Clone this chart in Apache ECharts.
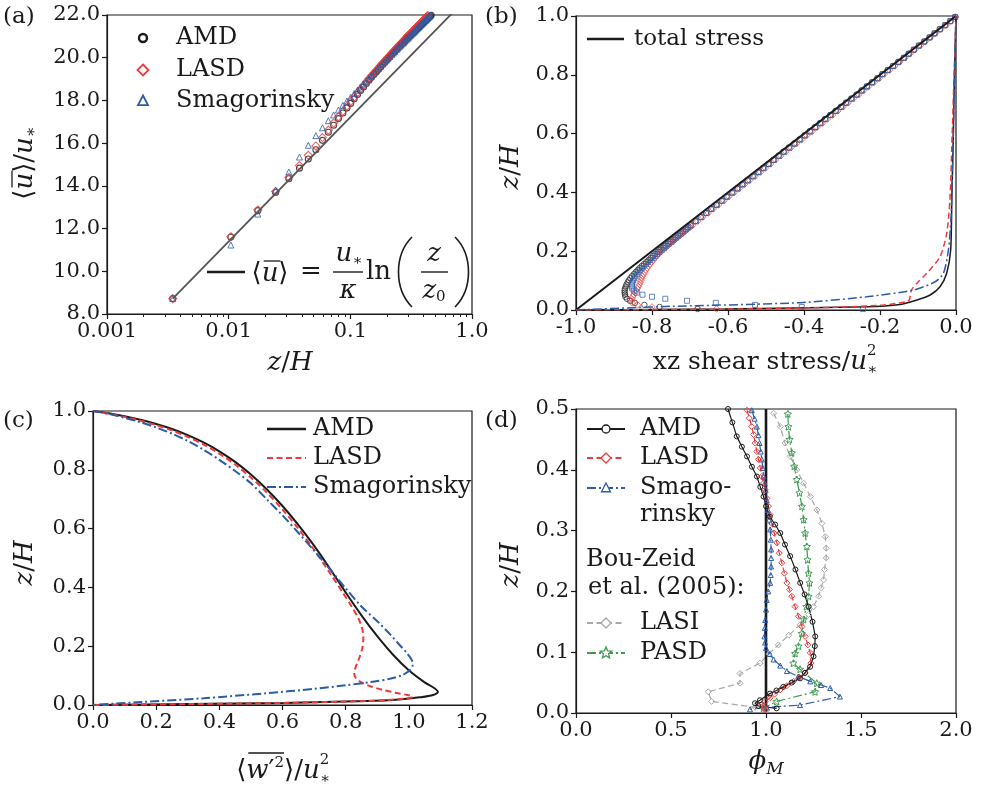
<!DOCTYPE html>
<html><head><meta charset="utf-8">
<script src="https://cdn.jsdelivr.net/npm/echarts@6/dist/echarts.min.js"></script>
<style>html,body{margin:0;padding:0;background:#fff}#c{width:987px;height:789px}</style>
</head><body><div id="c"></div>
<script>
// ---------------- Panel (a): mean velocity profile ----------------
const zA = [0.00347,0.01042,0.01736,0.02431,0.03125,0.03819,0.04514,0.05208,0.05903,0.06597,0.07292,0.07986,0.08681,0.09375,0.10069,0.10764,0.11458,0.12153,0.12847,0.13542,0.14236,
  0.14931,0.15625,0.16319,0.17014,0.17708,0.18403,0.19097,0.19792,0.20486,0.21181,0.21875,0.22569,0.23264,0.23958,0.24653,0.25347,0.26042,0.26736,0.27431,0.28125,0.28819,0.29514,0.30208,0.30903,0.31597,0.32292,0.32986,0.33681,0.34375,0.35069,0.35764,0.36458,0.37153,0.37847,0.38542,0.39236,0.39931,0.40625,0.41319,0.42014,0.42708,0.43403,0.44097,0.44792,0.45486,0.46181,0.46875,0.47569,0.48264,0.48958];
const uAMD = [8.72,11.60,12.84,13.69,14.33,14.83,15.26,15.69,16.13,16.51,16.84,17.15,17.41,17.65,17.86,18.08,18.28,18.46,18.63,18.79,18.95,
  19.08,19.21,19.33,19.45,19.57,19.68,19.78,19.88,19.98,20.07,20.16,20.24,20.32,20.40,20.48,20.55,20.62,20.68,20.75,20.81,20.87,20.93,20.99,21.04,21.09,21.14,21.19,21.24,21.29,21.34,21.38,21.43,21.47,21.51,21.56,21.60,21.64,21.68,21.72,21.76,21.80,21.84,21.88,21.91,21.95,21.99,22.02,22.06,22.10,22.13];
const uLASD = [8.72,11.62,12.87,13.74,14.40,14.95,15.43,15.87,16.26,16.61,16.94,17.23,17.49,17.73,17.95,18.16,18.36,18.54,18.71,18.87,19.02,
  19.15,19.28,19.40,19.52,19.63,19.74,19.84,19.94,20.03,20.12,20.21,20.29,20.37,20.45,20.53,20.60,20.67,20.74,20.81,20.88,20.94,21.00,21.06,21.12,21.17,21.23,21.28,21.33,21.39,21.44,21.49,21.53,21.58,21.63,21.67,21.72,21.76,21.81,21.85,21.89,21.94,21.98,22.02,22.05,22.09,22.13,22.17,22.21,22.25,22.28];
const uSmag = [8.72,11.23,12.68,13.80,14.65,15.35,15.90,16.35,16.72,17.05,17.32,17.55,17.77,17.97,18.15,18.32,18.48,18.63,18.77,18.90,19.03,
  19.16,19.28,19.40,19.51,19.61,19.71,19.80,19.89,19.98,20.06,20.14,20.22,20.30,20.38,20.45,20.52,20.59,20.65,20.71,20.78,20.84,20.90,20.96,21.02,21.07,21.13,21.18,21.23,21.29,21.34,21.39,21.43,21.48,21.53,21.57,21.62,21.66,21.71,21.75,21.79,21.84,21.88,21.92,21.95,21.99,22.03,22.07,22.11,22.15,22.18];
const lawZ = [0.00347, 1.0];
const lawU = [8.72, 23.03];
const aTickLabels = ['0.001','0.01','0.1','1.0'];
const aMinorTicks = [0.002,0.003,0.004,0.005,0.006,0.007,0.008,0.009,0.02,0.03,0.04,0.05,0.06,0.07,0.08,0.09,0.2,0.3,0.4,0.5,0.6,0.7,0.8,0.9];

// ---------------- Panel (b): shear stress ----------------
const zB = [0.0035,0.0104,0.0174,0.0243,0.0313,0.0382,0.0451,0.0521,0.0590,0.0660,0.0729,0.0799,0.0868,0.0938,0.1007,0.1076,0.1146,0.1215,0.1285,0.1354,0.1424,0.1493,0.1563,0.1632,0.1701,0.1771,0.1840,0.1910,0.1979,0.2049,0.2118,0.2188,0.2257,0.2326,0.2396,0.2465,0.2535,0.2604,0.2674,0.2743,0.2813,0.2882,
  0.3021,0.3160,0.3299,0.3438,0.3576,0.3715,0.3854,0.3993,0.4132,0.4271,0.4410,0.4549,0.4688,0.4826,0.4965,0.5104,0.5243,0.5382,0.5521,0.5660,0.5799,0.5938,0.6076,0.6215,0.6354,0.6493,0.6632,0.6771,0.6910,0.7049,0.7188,0.7326,0.7465,0.7604,0.7743,0.7882,0.8021,0.8160,0.8299,0.8438,0.8576,0.8715,0.8854,0.8993,0.9132,0.9271,0.9410,0.9549,0.9688,0.9826,0.9965];
const resAMD = [-0.68,-0.78,-0.82,-0.845,-0.858,-0.866,-0.870,-0.871,-0.872,-0.872,-0.871,-0.869,-0.867,-0.864,-0.861,-0.857,-0.853,-0.848,-0.843,-0.838,-0.833,-0.827,-0.821,-0.815,-0.809,-0.803,-0.797,-0.791,-0.784,-0.778,-0.771,-0.765,-0.758,-0.752,-0.745,-0.739,-0.732,-0.726,-0.719,-0.712,-0.706,-0.699,
  -0.686,-0.672,-0.658,-0.645,-0.631,-0.617,-0.604,-0.590,-0.576,-0.563,-0.549,-0.535,-0.521,-0.508,-0.494,-0.481,-0.467,-0.454,-0.440,-0.426,-0.412,-0.399,-0.385,-0.371,-0.358,-0.345,-0.331,-0.317,-0.303,-0.290,-0.276,-0.262,-0.249,-0.235,-0.221,-0.207,-0.194,-0.180,-0.166,-0.152,-0.138,-0.125,-0.111,-0.098,-0.084,-0.070,-0.057,-0.043,-0.029,-0.015,-0.002];
const resLASD = [-0.63,-0.80,-0.838,-0.852,-0.854,-0.853,-0.851,-0.848,-0.845,-0.842,-0.839,-0.836,-0.833,-0.831,-0.829,-0.827,-0.825,-0.822,-0.819,-0.816,-0.813,-0.809,-0.805,-0.801,-0.796,-0.792,-0.787,-0.782,-0.776,-0.770,-0.764,-0.758,-0.752,-0.745,-0.739,-0.733,-0.726,-0.720,-0.713,-0.707,-0.700,-0.693,
  -0.680,-0.666,-0.652,-0.639,-0.625,-0.611,-0.598,-0.584,-0.570,-0.557,-0.543,-0.529,-0.515,-0.502,-0.488,-0.475,-0.461,-0.448,-0.434,-0.420,-0.406,-0.393,-0.379,-0.366,-0.352,-0.339,-0.325,-0.311,-0.297,-0.284,-0.270,-0.256,-0.243,-0.230,-0.216,-0.202,-0.189,-0.175,-0.161,-0.148,-0.134,-0.121,-0.108,-0.094,-0.081,-0.067,-0.054,-0.040,-0.026,-0.013,-0.001];
const resSmag = [-0.245,-0.406,-0.529,-0.632,-0.708,-0.765,-0.800,-0.825,-0.840,-0.848,-0.852,-0.853,-0.853,-0.852,-0.850,-0.847,-0.844,-0.840,-0.836,-0.832,-0.827,-0.822,-0.816,-0.811,-0.805,-0.799,-0.793,-0.787,-0.781,-0.775,-0.768,-0.762,-0.756,-0.749,-0.743,-0.736,-0.730,-0.723,-0.717,-0.710,-0.704,-0.697,
  -0.684,-0.670,-0.656,-0.643,-0.629,-0.615,-0.602,-0.588,-0.574,-0.561,-0.547,-0.533,-0.519,-0.506,-0.492,-0.479,-0.465,-0.452,-0.438,-0.424,-0.410,-0.397,-0.383,-0.370,-0.356,-0.343,-0.329,-0.315,-0.301,-0.288,-0.274,-0.260,-0.247,-0.234,-0.220,-0.206,-0.193,-0.179,-0.165,-0.151,-0.137,-0.124,-0.111,-0.097,-0.083,-0.069,-0.056,-0.042,-0.028,-0.015,-0.002];
const totalX = [-1.0, 0.0];
const totalZ = [0.0, 1.0];
const sgsAMDz = [0,0.0034,0.011,0.019,0.034,0.051,0.079,0.125,0.204,0.374,0.6,0.8,1.0];
const sgsAMDx = [-1,-0.612,-0.235,-0.147,-0.103,-0.068,-0.042,-0.0245,-0.014,-0.011,-0.007,-0.004,0];
const sgsLASDz = [0,0.003,0.009,0.017,0.028,0.034,0.068,0.091,0.125,0.181,0.261,0.374,0.6,0.8,1.0];
const sgsLASDx = [-1,-0.6,-0.323,-0.191,-0.13,-0.123,-0.117,-0.103,-0.077,-0.042,-0.0245,-0.016,-0.01,-0.005,0];
const sgsSmagz = [0,0.011,0.025,0.045,0.068,0.096,0.125,0.204,0.317,0.6,0.8,1.0];
const sgsSmagx = [-1,-0.788,-0.41,-0.235,-0.112,-0.055,-0.033,-0.02,-0.013,-0.007,-0.004,0];

// ---------------- Panel (c): vertical velocity variance ----------------
const cAMDx = [0,0.05,0.10,0.15,0.20,0.25,0.30,0.35,0.40,0.45,0.50,0.55,0.60,0.65,0.70,0.75,0.80,0.85,0.90,0.95,1.00,1.05,1.08,1.092,1.077,1.034,0.971,0.865,0.6,0.3,0];
const cAMDz = [1,0.992,0.982,0.970,0.956,0.939,0.918,0.893,0.863,0.827,0.784,0.734,0.677,0.613,0.542,0.464,0.383,0.305,0.234,0.171,0.118,0.077,0.058,0.045,0.034,0.026,0.019,0.0136,0.007,0.003,0];
const cLASDx = [0,0.05,0.10,0.15,0.20,0.25,0.30,0.35,0.40,0.45,0.50,0.55,0.60,0.65,0.70,0.75,0.79,0.82,0.84,0.852,0.856,0.853,0.843,0.832,0.827,0.832,0.85,0.88,0.92,0.96,0.995,1.013,0.99,0.93,0.865,0.6,0.3,0];
const cLASDz = [1,0.991,0.980,0.967,0.952,0.934,0.912,0.886,0.855,0.818,0.774,0.723,0.665,0.600,0.528,0.449,0.384,0.333,0.295,0.262,0.23,0.195,0.16,0.13,0.108,0.092,0.077,0.063,0.051,0.041,0.034,0.028,0.022,0.017,0.0136,0.007,0.003,0];
const cSmagx = [0,0.05,0.10,0.15,0.20,0.25,0.30,0.35,0.40,0.45,0.50,0.55,0.60,0.65,0.70,0.75,0.80,0.85,0.90,0.94,0.97,0.995,1.010,1.012,1.003,0.98,0.94,0.88,0.80,0.70,0.55,0.35,0.15,0];
const cSmagz = [1,0.990,0.977,0.962,0.944,0.923,0.898,0.868,0.834,0.796,0.754,0.700,0.645,0.586,0.525,0.462,0.397,0.335,0.285,0.241,0.205,0.175,0.152,0.135,0.118,0.102,0.089,0.078,0.067,0.055,0.040,0.023,0.010,0];

// ---------------- Panel (d): phi_M ----------------
const dAMDx = [0.80,0.823,0.846,0.873,0.90,0.926,0.952,0.970,0.987,1.0,1.02,1.048,1.075,1.10,1.127,1.155,1.18,1.203,1.224,1.245,1.259,1.257,1.25,1.232,1.205,1.179,1.135,1.091,1.055,1.021,0.968,0.942,0.96,1.056];
const dAMDz = [0.5,0.478,0.455,0.438,0.422,0.405,0.389,0.372,0.356,0.34,0.323,0.31,0.296,0.277,0.258,0.236,0.214,0.195,0.175,0.15,0.126,0.11,0.093,0.076,0.066,0.057,0.05,0.043,0.037,0.032,0.021,0.016,0.0115,0.0077];
const dLASDx = [0.9,0.912,0.925,0.935,0.943,0.952,0.96,0.97,0.978,0.987,0.996,1.005,1.013,1.022,1.03,1.043,1.057,1.07,1.083,1.097,1.11,1.123,1.136,1.153,1.171,1.189,1.206,1.22,1.233,1.236,1.206,1.175,1.145,1.11,1.075,1.045,1.022,0.995,0.978,0.99,0.996];
const dLASDz = [0.498,0.485,0.471,0.458,0.444,0.43,0.417,0.403,0.389,0.378,0.367,0.353,0.34,0.326,0.312,0.296,0.28,0.263,0.247,0.23,0.214,0.203,0.192,0.175,0.159,0.142,0.126,0.112,0.099,0.082,0.066,0.059,0.052,0.045,0.038,0.031,0.025,0.019,0.014,0.009,0.005];
const dSmagx = [0.925,0.94,0.952,0.96,0.966,0.972,0.978,0.983,0.987,0.993,0.998,1.004,1.01,1.016,1.022,1.025,1.027,1.027,1.027,1.025,1.022,1.012,1.004,1.0,0.996,0.994,0.992,0.995,1.0,1.02,1.04,1.075,1.11,1.17,1.233,1.29,1.338,1.389,1.179,1.004,0.916];
const dSmagz = [0.498,0.484,0.471,0.457,0.444,0.43,0.417,0.403,0.389,0.378,0.367,0.35,0.334,0.318,0.302,0.285,0.269,0.255,0.241,0.227,0.214,0.2,0.186,0.17,0.153,0.14,0.126,0.116,0.107,0.097,0.088,0.078,0.069,0.06,0.052,0.046,0.041,0.027,0.013,0.0093,0.006];
const dLASIx = [1.04,1.075,1.10,1.127,1.162,1.198,1.233,1.268,1.294,1.312,1.317,1.317,1.308,1.303,1.29,1.277,1.25,1.224,1.179,1.12,1.065,1.015,0.968,0.863,0.863,0.696,0.714,0.942,1.004];
const dLASIz = [0.493,0.471,0.444,0.422,0.40,0.378,0.356,0.334,0.312,0.29,0.271,0.255,0.236,0.219,0.206,0.192,0.175,0.162,0.145,0.128,0.112,0.097,0.082,0.065,0.049,0.035,0.019,0.0094,0.005];
const dPASDx = [1.115,1.118,1.124,1.136,1.148,1.162,1.176,1.189,1.198,1.206,1.215,1.219,1.224,1.229,1.224,1.212,1.198,1.188,1.171,1.153,1.144,1.179,1.267,1.258,1.056,0.986];
const dPASDz = [0.492,0.471,0.45,0.428,0.406,0.384,0.362,0.34,0.318,0.296,0.274,0.252,0.23,0.214,0.192,0.175,0.154,0.131,0.110,0.098,0.082,0.072,0.049,0.035,0.019,0.008];
const phiRefX = [1.0, 1.0];
const phiRefZ = [0.0, 0.5];

// ---------------- rendering ----------------
const FF = 'DejaVu Serif';
const K = '#1a1a1a', RED = '#ee3a3a', BLUE = '#2c5ca8', GRAY = '#a8a8a8', GREEN = '#3d9a4f';
const DASH = [6, 3.5], DASHDOT = [9, 3, 2, 3];
const STAR = 'path://M0,-10L2.9,-4L9.5,-3.1L4.7,1.5L5.9,8.1L0,5L-5.9,8.1L-4.7,1.5L-9.5,-3.1L-2.9,-4Z';
const zip = (xs, ys) => xs.map((v, i) => [v, ys[i]]);
const f1 = v => Math.abs(v) < 1e-9 ? '0.0' : v.toFixed(1);

const mctx = document.createElement('canvas').getContext('2d');
function tw(t, s, it) { mctx.font = (it ? 'italic ' : '') + s + 'px "DejaVu Serif"'; return mctx.measureText(t).width; }
function txt(t, x, y, st) {
  return {type:'text', x, y, silent:true, style:Object.assign({text:t, fontFamily:FF, fontSize:24, fill:K, align:'left', verticalAlign:'middle'}, st || {})};
}
function mrow(parts, cx, cy, rot, base, overY) {
  base = base || 26;
  let x = 0; const items = [];
  for (const p of parts) {
    const s = p.s || base, w = tw(p.t, s, p.i);
    items.push({p, s, x, w});
    if (!p.stay) x += w + (p.gap || 0);
  }
  const off = -x / 2, ch = [];
  let o1 = null, o2 = null;
  for (const it of items) {
    ch.push({type:'text', x:it.x + off, y:(it.p.dy || 0), style:{text:it.p.t, fontFamily:FF, fontSize:it.s, fontStyle:it.p.i ? 'italic' : 'normal', fill:K, align:'left', verticalAlign:'middle'}});
    if (it.p.over) {
      const sh = it.p.i ? 2 : 0;
      if (o1 === null) o1 = it.x + off + sh;
      o2 = it.x + off + it.w + sh;
    }
  }
  if (o1 !== null) {
    const oy = -(overY || base * 0.5);
    ch.push({type:'line', shape:{x1:o1, y1:oy, x2:o2, y2:oy}, style:{stroke:K, lineWidth:1.3}});
  }
  return {type:'group', x:cx, y:cy, rotation:rot || 0, silent:true, children:ch};
}
function hline(x1, x2, y, c, w, dash) { return {type:'line', silent:true, shape:{x1, y1:y, x2, y2:y}, style:{stroke:c, lineWidth:w, lineDash:dash || null}}; }
function circ(cx, cy, r, c, w) { return {type:'circle', silent:true, shape:{cx, cy, r}, style:{fill:'#fff', stroke:c, lineWidth:w}}; }
function poly(pts, c, w) { return {type:'polygon', silent:true, shape:{points:pts}, style:{fill:'#fff', stroke:c, lineWidth:w}}; }
function diamond(cx, cy, r, c, w) { return poly([[cx, cy - r], [cx + r, cy], [cx, cy + r], [cx - r, cy]], c, w); }
function tri(cx, cy, r, c, w) { return poly([[cx, cy - r], [cx + r * 0.9, cy + r * 0.75], [cx - r * 0.9, cy + r * 0.75]], c, w); }
function star(cx, cy, r, c, w) {
  const pts = [];
  for (let k = 0; k < 10; k++) { const a = -Math.PI / 2 + k * Math.PI / 5, rr = k % 2 ? r * 0.45 : r; pts.push([cx + rr * Math.cos(a), cy + rr * Math.sin(a)]); }
  return poly(pts, c, w);
}

const G = [];
[['(a)',3,17],['(b)',485,17],['(c)',3,421],['(d)',485,421]].forEach(([t,x,y]) => G.push(txt(t, x, y, {fontSize:23})));
// axis names
const PI2 = Math.PI / 2;
const zH = [{t:'z',i:1},{t:'/'},{t:'H',i:1}];
G.push(mrow(zH, 290, 363));
G.push(mrow([{t:'⟨'},{t:'u',i:1,over:1},{t:'⟩'},{t:'/'},{t:'u',i:1},{t:'∗',s:16,dy:7}], 25, 163, PI2));
G.push(mrow(zH, 511, 167, PI2));
G.push(mrow([{t:'xz shear stress/',s:25},{t:'u',i:1},{t:'2',s:15,dy:-11,stay:1},{t:'∗',s:15,dy:8}], 765, 362));
G.push(mrow(zH, 25, 563, PI2));
G.push(mrow([{t:'⟨'},{t:'w',i:1,over:1},{t:'′',over:1},{t:'2',s:15,dy:-8,over:1},{t:'⟩'},{t:'/'},{t:'u',i:1},{t:'2',s:15,dy:-11,stay:1},{t:'∗',s:15,dy:8}], 283, 771, 0, 26, 18));
G.push(mrow(zH, 511, 565, PI2));
G.push(mrow([{t:'ϕ',i:1},{t:'M',i:1,s:17,dy:8}], 766, 762));
// legend (a)
G.push(circ(143, 38, 4, K, 2.4), diamond(143, 70, 5.5, RED, 1.8), tri(143, 101, 5.5, BLUE, 1.8));
G.push(txt('AMD', 176, 38), txt('LASD', 176, 70), txt('Smagorinsky', 176, 101));
// log-law formula (a)
G.push(hline(207, 245, 272, K, 2.5));
G.push(mrow([{t:'⟨'},{t:'u',i:1,over:1},{t:'⟩'}], 270, 274));
G.push(txt('=', 300, 272, {fontSize:26}));
G.push(mrow([{t:'u',i:1},{t:'∗',s:15,dy:7}], 349, 254));
G.push(hline(333, 363, 272, K, 1.4));
G.push(txt('κ', 348, 291, {fontSize:26, fontStyle:'italic', align:'center'}));
G.push(txt('ln', 366, 272, {fontSize:26}));
G.push({type:'bezierCurve', silent:true, shape:{x1:412, y1:237, cpx1:394, cpy1:255, cpx2:394, cpy2:289, x2:412, y2:307}, style:{stroke:K, lineWidth:1.6, fill:null}});
G.push({type:'bezierCurve', silent:true, shape:{x1:455, y1:237, cpx1:473, cpy1:255, cpx2:473, cpy2:289, x2:455, y2:307}, style:{stroke:K, lineWidth:1.6, fill:null}});
G.push(txt('z', 434, 254, {fontSize:26, fontStyle:'italic', align:'center'}));
G.push(hline(421, 448, 272, K, 1.4));
G.push(mrow([{t:'z',i:1},{t:'0',s:15,dy:6}], 434, 291));
// legend (b)
G.push(hline(587, 624, 39, K, 2.5), txt('total stress', 634, 39, {fontSize:23}));
// legend (c)
G.push(hline(267, 306, 429, K, 2.5), txt('AMD', 313, 429));
G.push(hline(267, 306, 458, RED, 2, DASH), txt('LASD', 313, 458));
G.push(hline(267, 306, 487, BLUE, 2, DASHDOT), txt('Smagorinsky', 313, 487));
// legend (d)
G.push(hline(587, 625, 429, K, 2), circ(606, 429, 4, K, 1.3), txt('AMD', 640, 429));
G.push(hline(587, 625, 458, RED, 2, DASH), diamond(606, 458, 5, RED, 1.3), txt('LASD', 640, 458));
G.push(hline(587, 625, 488, BLUE, 2, DASHDOT), tri(606, 488, 5, BLUE, 1.3), txt('Smago-', 640, 488), txt('rinsky', 640, 515));
G.push(txt('Bou-Zeid', 586, 560), txt('et al. (2005):', 588, 588));
G.push(hline(587, 625, 623, GRAY, 2, DASH), diamond(606, 623, 5, GRAY, 1.3), txt('LASI', 640, 623));
G.push(hline(587, 625, 653, GREEN, 2, DASHDOT), star(606, 653, 6, GREEN, 1.3), txt('PASD', 640, 653));

function ax(gi, extra) {
  return Object.assign({
    gridIndex: gi,
    axisLine: {show:true, onZero:false, lineStyle:{color:K, width:1.2}},
    axisTick: {show:true, inside:false, length:5, lineStyle:{color:K, width:1.2}},
    axisLabel: {color:K, fontFamily:FF, fontSize:21, margin:7, formatter:f1},
    splitLine: {show:false}
  }, extra);
}
function grid(l, t, w, h) { return {left:l, top:t, width:w, height:h, show:true, borderColor:K, borderWidth:1.2, backgroundColor:'rgba(0,0,0,0)', containLabel:false, outerBoundsMode:'none'}; }
const hollow = (c, w) => ({color:'rgba(0,0,0,0)', borderColor:c, borderWidth:w || 1});
const base = {silent:true, animation:false, emphasis:{disabled:true}};
function sc(xi, data, sym, size, c, bw) { return Object.assign({type:'scatter', xAxisIndex:xi, yAxisIndex:xi, data, symbol:sym, symbolSize:size, itemStyle:hollow(c, bw)}, base); }
function ln(xi, data, c, w, dash, smooth, sym, size) {
  return Object.assign({type:'line', xAxisIndex:xi, yAxisIndex:xi, data, smooth:smooth || false, showSymbol:!!sym, symbol:sym || 'none', symbolSize:size || 5,
    itemStyle:hollow(c, 1), lineStyle:{color:c, width:w, type:dash || 'solid'}}, base);
}

const option = {
  animation: false,
  backgroundColor: '#fff',
  grid: [grid(107, 15, 365, 299), grid(576, 16, 380, 294), grid(93, 411, 379, 294), grid(576, 409, 380, 304)],
  xAxis: [
    ax(0, {type:'log', logBase:10, min:0.001, max:1, axisLabel:{color:K, fontFamily:FF, fontSize:21, margin:7, formatter:v => aTickLabels[Math.round(Math.log10(v)) + 3]}}),
    ax(1, {type:'value', min:-1, max:0, interval:0.2}),
    ax(2, {type:'value', min:0, max:1.2, interval:0.2}),
    ax(3, {type:'value', min:0, max:2, interval:0.5}),
    {type:'log', gridIndex:0, logBase:10, min:0.001, max:1, position:'bottom', axisLine:{show:false}, axisLabel:{show:false}, splitLine:{show:false},
     axisTick:{show:true, length:3, customValues:aMinorTicks, lineStyle:{color:K, width:1}}}
  ],
  yAxis: [
    ax(0, {type:'value', min:8, max:22, interval:2}),
    ax(1, {type:'value', min:0, max:1, interval:0.2}),
    ax(2, {type:'value', min:0, max:1, interval:0.2}),
    ax(3, {type:'value', min:0, max:0.5, interval:0.1})
  ],
  graphic: G,
  series: [
    // (a)
    ln(0, zip(lawZ, lawU), '#555', 1.8),
    sc(0, zip(zA, uAMD), 'circle', 6, K, 1.1),
    sc(0, zip(zA, uLASD), 'diamond', 8, RED, 1.1),
    sc(0, zip(zA, uSmag), 'triangle', 6, BLUE, 1.0),
    // (b)
    ln(1, zip(totalX, totalZ), K, 2),
    ln(1, zip(sgsAMDx, sgsAMDz), K, 1.5, 'solid', 0.25),
    ln(1, zip(sgsLASDx, sgsLASDz), RED, 1.5, DASH, 0.25),
    ln(1, zip(sgsSmagx, sgsSmagz), BLUE, 1.5, DASHDOT, 0.25),
    sc(1, zip(resAMD, zB), 'circle', 5.5, K, 0.9),
    sc(1, zip(resLASD, zB), 'diamond', 6.5, RED, 0.9),
    sc(1, zip(resSmag, zB), 'rect', 5, BLUE, 0.9),
    // (c)
    ln(2, zip(cAMDx, cAMDz), K, 2, 'solid', 0.3),
    ln(2, zip(cLASDx, cLASDz), RED, 2, DASH, 0.3),
    ln(2, zip(cSmagx, cSmagz), BLUE, 2, DASHDOT, 0.3),
    // (d)
    ln(3, zip(dLASIx, dLASIz), GRAY, 1.2, DASH, false, 'diamond', 6),
    ln(3, zip(dPASDx, dPASDz), GREEN, 1.2, DASHDOT, false, STAR, 7),
    ln(3, zip(dSmagx, dSmagz), BLUE, 1.2, DASHDOT, false, 'triangle', 5),
    ln(3, zip(dLASDx, dLASDz), RED, 1.2, DASH, false, 'diamond', 6),
    ln(3, zip(dAMDx, dAMDz), K, 1.2, 'solid', false, 'circle', 5),
    ln(3, zip(phiRefX, phiRefZ), K, 2.6)
  ]
};
const chart = echarts.init(document.getElementById('c'), null, {renderer:'canvas'});
chart.setOption(option);
</script></body></html>
